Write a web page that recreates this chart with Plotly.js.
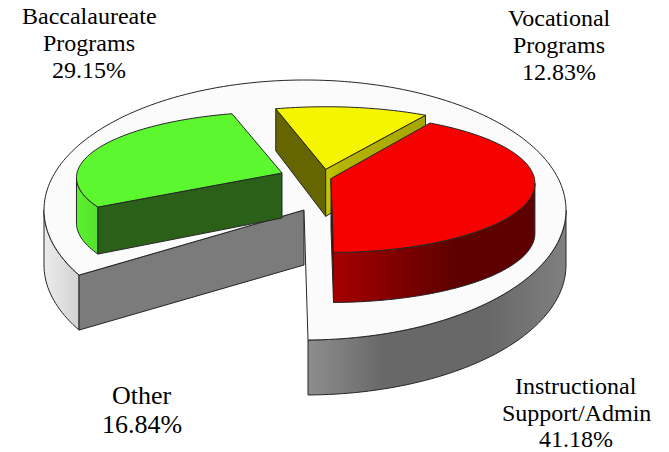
<!DOCTYPE html>
<html>
<head>
<meta charset="utf-8">
<script src="https://cdn.plot.ly/plotly-3.0.1.min.js"></script>
<style>html,body{margin:0;padding:0;background:#fff}#chart{width:669px;height:452px}</style>
</head>
<body>
<div id="chart"></div>
<script>
// ---- data ----
const categories = ["Other", "Baccalaureate Programs", "Vocational Programs", "Instructional Support/Admin"];
const shares = [16.84, 29.15, 12.83, 41.18];
const labelLines = [["Other"], ["Baccalaureate", "Programs"], ["Vocational", "Programs"], ["Instructional", "Support/Admin"]];

// ---- view of the tilted pie ----
const startAngle = 270.66;
const rad = d => d * Math.PI / 180;
const edges = [startAngle];
shares.forEach(s => edges.push(edges[edges.length - 1] - s * 3.6));
const angleOf = i => [edges[i], edges[i + 1]];

const plate = {cx: 305, cy: 210, A: 261, B: 130, p: 0, h0: 55, q: 0};
const green = {cx: 282, cy: 173, A: 205, B: 65.6, p: 0.071, h0: 45, q: 0.09};
const yellow = {cx: 325.7, cy: 169.3, A: 205, B: 67, p: 0.071, h0: 47, q: 0.11};
const red = {cx: 331, cy: 178.5, A: 203.4, B: 68.7, p: 0.071, h0: 50, q: 0};

const pt = (v, deg, down) => {
  const s = Math.sin(rad(deg)), c = Math.cos(rad(deg)), w = 1 + v.p * s;
  const y = v.cy - v.B * s / w;
  return [v.cx + v.A * c / w, down ? y + v.h0 * (1 - v.q * s) : y];
};
const arc = (v, a, b, down) => {
  const out = [], n = Math.max(2, Math.ceil(Math.abs(b - a) / 1.5));
  for (let i = 0; i <= n; i++) out.push(pt(v, a + (b - a) * i / n, down));
  return out;
};
const apex = (v, down) => [v.cx, down ? v.cy + v.h0 : v.cy];
const LINE = "#262626";
const traces = [];
function poly(points, color, grad, lineWidth) {
  const pts = points.concat([points[0]]);
  const t = {
    type: "scatter", mode: "lines", x: pts.map(p => p[0]), y: pts.map(p => p[1]),
    fill: "toself", line: {color: LINE, width: lineWidth === undefined ? 1 : lineWidth, simplify: false},
    hoverinfo: "skip", showlegend: false
  };
  if (grad) t.fillgradient = {type: "horizontal", colorscale: grad.map((c, i) => [c[0], c[1]]), start: grad.start, stop: grad.stop};
  else t.fillcolor = color;
  traces.push(t);
}
function gradient(start, stop, stops) { const g = stops.slice(); g.start = start; g.stop = stop; return g; }
function wall(v, a, b, grad) {
  poly(arc(v, a, b, false).concat(arc(v, b, a, true)), null, grad);
}

// plate walls
const [oA, oB] = angleOf(0);
wall(plate, 360, oA, gradient(307, 566, [[0, "#8e8e8e"], [0.3, "#686868"], [0.7, "#686868"], [1, "#808080"]]));
wall(plate, oB, 180, gradient(44, 79, [[0, "#ececec"], [1, "#d2d2d2"]]));
// wedge cut face
poly([apex({cx: 304, cy: 210, h0: 55}), pt(plate, oB, false), pt(plate, oB, true), apex({cx: 304, cy: 210, h0: 55}, true)], "#7b7b7b");
// plate top
poly(arc(plate, oA, oB + 360, false).concat([[304, 210]]), "#fbfbfb");

// vocational slice (yellow)
const [yA, yB] = angleOf(2);
poly([apex(yellow), pt(yellow, yA, false), pt(yellow, yA, true), apex(yellow, true)], "#666600");
poly([apex(yellow), pt(yellow, yB, false), pt(yellow, yB, true), apex(yellow, true)], null,
  gradient(325, 424, [[0, "#c8c800"], [0.15, "#b4b400"], [1, "#a6a600"]]));
poly([apex(yellow)].concat(arc(yellow, yA, yB, false)), "#f5f500");

// instructional slice (red)
const [rA, rB] = angleOf(3);
wall(red, -4.07, rB, gradient(333, 535, [[0, "#a60000"], [0.6, "#5e0000"], [1, "#5e0000"]]));
poly([apex(red), pt(red, rB, false), pt(red, rB, true), apex(red, true)], "#600000");
poly([apex(red)].concat(arc(red, rA, rB, false)), "#f60000");

// baccalaureate slice (green)
const [gA, gB] = angleOf(1);
wall(green, gA, 184.07, gradient(78, 98, [[0, "#5cf030"], [1, "#56e02c"]]));
poly([apex(green), pt(green, gA, false), pt(green, gA, true), apex(green, true)], "#2a6018");
poly([apex(green)].concat(arc(green, gA, gB, false)), "#5cf72f");

// ---- labels ----
const labelPos = [
  {x: 141.5, ys: [395], size: 26, py: 424},
  {x: 89, ys: [15.5, 42.5], size: 24, py: 70},
  {x: 559, ys: [17.5, 44.5], size: 24, py: 71.5},
  {x: 576, ys: [386, 413], size: 24, py: 438.5}
];
const annotations = [];
const addText = (text, x, y, size) => annotations.push({
  text, x, y, xref: "x", yref: "y", showarrow: false, xanchor: "center", yanchor: "middle",
  font: {family: "Liberation Serif, Times New Roman, serif", size, color: "#000"}
});
categories.forEach((c, i) => {
  labelLines[i].forEach((ln, j) => addText(ln, labelPos[i].x, labelPos[i].ys[j], labelPos[i].size));
  addText(shares[i].toFixed(2) + "%", labelPos[i].x, labelPos[i].py, labelPos[i].size);
});

Plotly.newPlot("chart", traces, {
  width: 669, height: 452, margin: {l: 0, r: 0, t: 0, b: 0},
  paper_bgcolor: "#fff", plot_bgcolor: "#fff", showlegend: false,
  xaxis: {range: [0, 669], visible: false, fixedrange: true},
  yaxis: {range: [452, 0], visible: false, fixedrange: true},
  annotations
}, {staticPlot: true, displayModeBar: false});
</script>
</body>
</html>
